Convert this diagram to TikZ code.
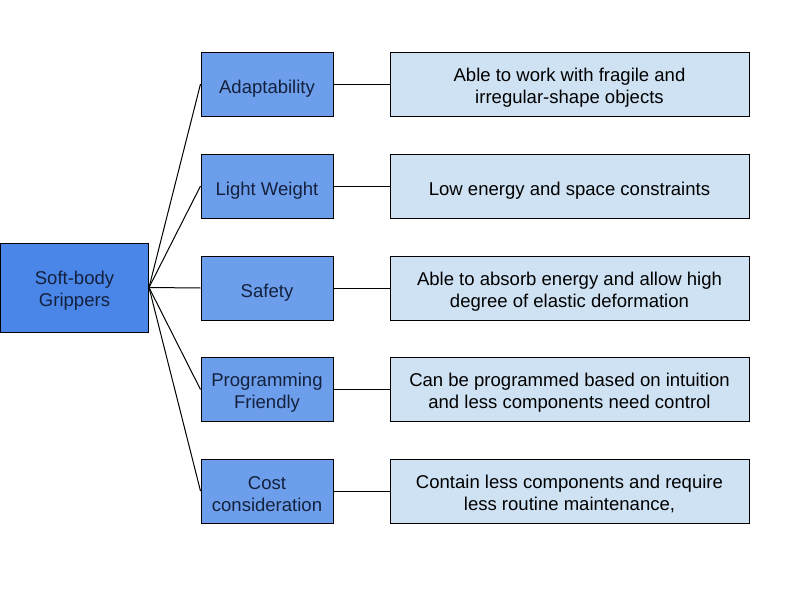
\documentclass[tikz,border=0pt]{standalone}
\usepackage{fontspec}
\setmainfont{Liberation Sans}
\definecolor{rootblue}{HTML}{4A86E8}
\definecolor{midblue}{HTML}{6D9EEB}
\definecolor{paleblue}{HTML}{CFE2F3}
\definecolor{inkblue}{HTML}{14213D}
\tikzset{
  boxtext/.style={align=center, inner sep=0pt, text height=16.5pt},
  twolines/.style={text height=31.5pt},
  rootbox/.style={boxtext, draw, fill=rootblue, text=inkblue, minimum width=111pt, minimum height=66.75pt},
  featbox/.style={boxtext, draw, fill=midblue, text=inkblue, minimum width=99pt, minimum height=48pt},
  notebox/.style={boxtext, draw, fill=paleblue, minimum width=269.25pt, minimum height=48pt},
}
\begin{document}
\begin{tikzpicture}[x=0.75pt, y=-0.75pt, line width=0.75pt,
                    font=\fontsize{13.9pt}{16.5pt}\selectfont]
                    \useasboundingbox (0,0) rectangle (800,600);
                    \node[rootbox, twolines] (G) at (74.5,287.5) {Soft-body\\Grippers};
                    \node[featbox] (A) at (267,84) {Adaptability};
                    \node[featbox] (L) at (267,186) {Light Weight};
                    \node[featbox] (S) at (267,288) {Safety};
                    \node[featbox, twolines] (P) at (267,389.5) {Programming\\Friendly};
                    \node[featbox, twolines] (C) at (267,491) {Cost\\consideration};
                    \node[notebox, twolines] (a) at (569.5,84) {Able to work with fragile and\\irregular-shape objects};
                    \node[notebox] (l) at (569.5,186) {Low energy and space constraints};
                    \node[notebox, twolines] (s) at (569.5,288) {Able to absorb energy and allow high\\degree of elastic deformation};
                    \node[notebox, twolines] (p) at (569.5,389.5) {Can be programmed based on intuition\\and less components need control};
                    \node[notebox, twolines] (c) at (569.5,491) {Contain less components and require\\less routine maintenance,};
                    \foreach \f/\n in {A/a, L/l, S/s, P/p, C/c} {
                      \draw (G.east) -- (\f.west);
                      \draw (\f.east) -- (\n.west);
                    }
\end{tikzpicture}
\end{document}
